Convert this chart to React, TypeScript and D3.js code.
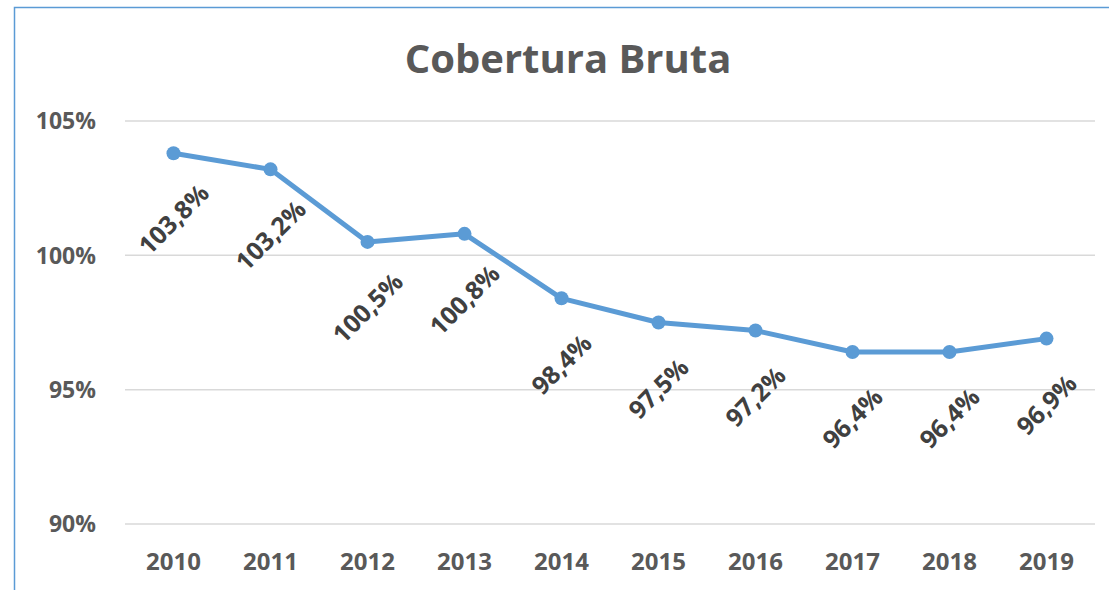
import React from "react";
import * as d3 from "d3";

const years = ["2010", "2011", "2012", "2013", "2014", "2015", "2016", "2017", "2018", "2019"];
const coverage = [103.8, 103.2, 100.5, 100.8, 98.4, 97.5, 97.2, 96.4, 96.4, 96.9];
const labels = ["103,8%", "103,2%", "100,5%", "100,8%", "98,4%", "97,5%", "97,2%", "96,4%", "96,4%", "96,9%"];
const yTicks = [90, 95, 100, 105];

const W = 1109;
const H = 590;
const FONT = "'Open Sans', Lato, sans-serif";

export default function App() {
  // plot area
  const left = 125;
  const right = 1095;
  const top = 121;
  const bottom = 524;

  const x = d3.scalePoint<string>().domain(years).range([left, right]).padding(0.5);
  const y = d3.scaleLinear().domain([90, 105]).range([bottom, top]);

  const line = d3
    .line<number>()
    .x((_, i) => x(years[i]) as number)
    .y((d) => y(d));

  return (
    <svg
      width={W}
      height={H}
      style={{ position: "absolute", left: 0, top: 0, background: "#fff" }}
    >
      {/* chart frame */}
      <rect x={14.5} y={7.5} width={1200} height={700} fill="none" stroke="#5B9BD5" strokeWidth={1.5} />

      <text x={568} y={73} textAnchor="middle" fontFamily={FONT} fontWeight="bold" fontSize={40} fill="#595959">
        Cobertura Bruta
      </text>

      {/* gridlines + y labels */}
      {yTicks.map((t) => (
        <g key={t}>
          <line x1={left} x2={right} y1={y(t)} y2={y(t)} stroke="#d9d9d9" strokeWidth={1.5} />
          <text x={96} y={y(t)} dy="0.36em" textAnchor="end" fontFamily={FONT} fontWeight="bold" fontSize={23} fill="#595959">
            {t}%
          </text>
        </g>
      ))}

      {/* x labels */}
      {years.map((yr) => (
        <text key={yr} x={x(yr)} y={570} textAnchor="middle" fontFamily={FONT} fontWeight="bold" fontSize={24} fill="#595959">
          {yr}
        </text>
      ))}

      <path d={line(coverage) || ""} fill="none" stroke="#5B9BD5" strokeWidth={5} strokeLinejoin="round" />
      {coverage.map((v, i) => (
        <circle key={i} cx={x(years[i])} cy={y(v)} r={7} fill="#5B9BD5" />
      ))}

      {/* data labels */}
      {coverage.map((v, i) => {
        const cx = x(years[i]) as number;
        const cy = y(v) + 66;
        return (
          <text
            key={"l" + i}
            x={cx}
            y={cy}
            dy="0.36em"
            textAnchor="middle"
            transform={`rotate(-45, ${cx}, ${cy})`}
            fontFamily={FONT}
            fontWeight="bold"
            fontSize={25}
            fill="#404040"
          >
            {labels[i]}
          </text>
        );
      })}
    </svg>
  );
}
